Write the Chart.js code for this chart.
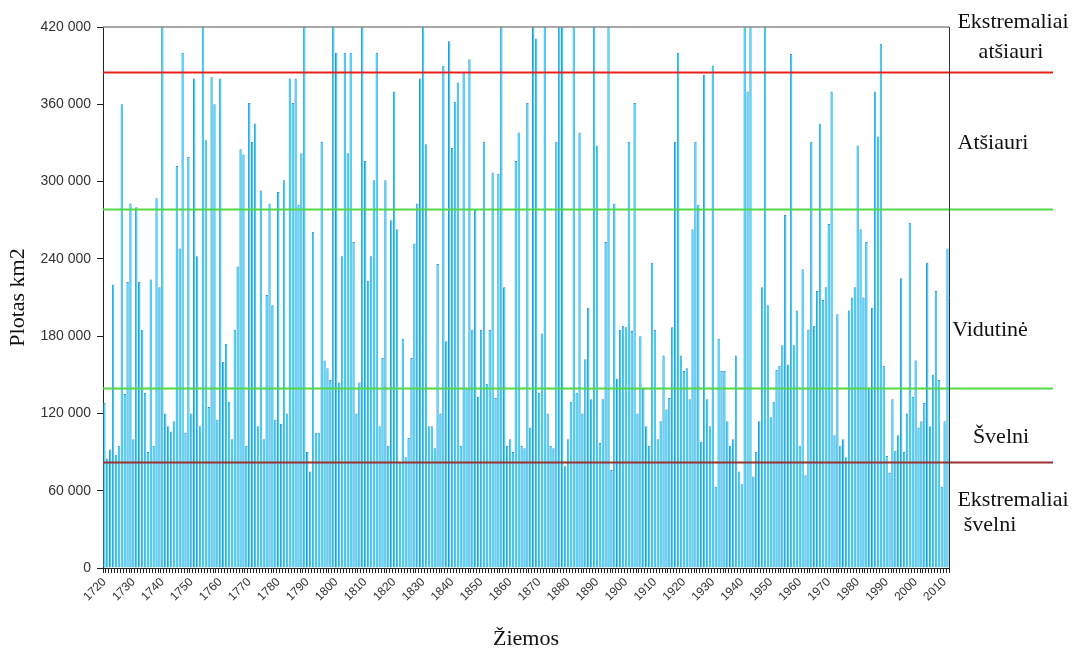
<!DOCTYPE html>
<html>
<head>
<meta charset="utf-8">
<script src="https://cdn.jsdelivr.net/npm/chart.js@4.4.1/dist/chart.umd.min.js"></script>
<style>
  html, body { margin: 0; padding: 0; background: #fff; }
  canvas { display: block; }
</style>
</head>
<body>
<canvas id="myChart" width="1073" height="652"></canvas>
<script>
// Ledo plotas Baltijos jūroje, žiemos 1720–2011
const firstYear = 1720;
const values = [
  128000, 85000, 92000, 220000, 88000, 95000, 360000, 135000, 222000, 283000,
  100000, 280000, 222000, 185000, 136000, 90000, 224000, 95000, 287000, 218000,
  420000, 120000, 110000, 106000, 114000, 312000, 248000, 400000, 105000, 319000,
  120000, 380000, 242000, 110000, 420000, 332000, 125000, 381000, 360000, 115000,
  380000, 160000, 174000, 129000, 100000, 185000, 234000, 325000, 321000, 95000,
  361000, 331000, 345000, 110000, 293000, 100000, 212000, 283000, 204000, 115000,
  292000, 112000, 301000, 120000, 380000, 361000, 380000, 282000, 322000, 420000,
  90000, 75000, 261000, 105000, 105000, 331000, 161000, 155000, 146000, 420000,
  400000, 144000, 242000, 400000, 322000, 400000, 253000, 120000, 144000, 420000,
  316000, 223000, 242000, 301000, 400000, 110000, 163000, 301000, 95000, 270000,
  370000, 263000, 82000, 178000, 86000, 101000, 163000, 252000, 283000, 380000,
  420000, 329000, 110000, 110000, 93000, 236000, 120000, 390000, 176000, 409000,
  326000, 362000, 377000, 95000, 385000, 140000, 395000, 185000, 278000, 133000,
  185000, 331000, 143000, 185000, 307000, 132000, 306000, 420000, 218000, 95000,
  100000, 90000, 316000, 338000, 95000, 93000, 361000, 109000, 420000, 411000,
  136000, 182000, 420000, 120000, 95000, 93000, 331000, 420000, 420000, 79000,
  100000, 129000, 420000, 136000, 338000, 120000, 162000, 202000, 131000, 420000,
  328000, 97000, 131000, 253000, 420000, 76000, 283000, 147000, 185000, 188000,
  187000, 331000, 184000, 361000, 120000, 180000, 139000, 110000, 95000, 237000,
  185000, 100000, 114000, 165000, 123000, 132000, 187000, 331000, 400000, 165000,
  153000, 155000, 131000, 263000, 331000, 282000, 98000, 383000, 131000, 110000,
  390000, 63000, 178000, 153000, 153000, 114000, 95000, 100000, 165000, 75000,
  65000, 420000, 370000, 420000, 71000, 90000, 114000, 218000, 420000, 204000,
  117000, 129000, 154000, 157000, 173000, 274000, 158000, 399000, 173000, 200000,
  95000, 232000, 72000, 185000, 331000, 188000, 215000, 345000, 208000, 218000,
  267000, 370000, 103000, 197000, 95000, 100000, 86000, 200000, 210000, 218000,
  328000, 263000, 210000, 253000, 140000, 202000, 370000, 335000, 407000, 157000,
  87000, 74000, 131000, 91000, 103000, 225000, 90000, 120000, 268000, 133000,
  161000, 109000, 114000, 128000, 237000, 110000, 150000, 215000, 146000, 63000,
  114000, 248000
];
const years = values.map((v, i) => String(firstYear + i));

// Ribos tarp žiemų tipų
const thresholds = [385000, 279000, 140000, 82000];
const thresholdColors = ['#e8201c', '#52d846', '#52d846', '#993333'];

// Užrašai dešinėje
const zoneLabels = [
  ['Ekstremaliai', 'atšiauri'],
  ['Atšiauri'],
  ['Vidutinė'],
  ['Švelni'],
  ['Ekstremaliai', 'švelni']
];
const zoneLabelPos = [
  [[1013, 22], [1011, 52]],
  [[993, 143]],
  [[990, 330]],
  [[1001, 437]],
  [[1013, 500], [990, 525]]
];

const serif = '"Liberation Serif", "Times New Roman", serif';
const sans = '"Liberation Sans", Arial, sans-serif';
const fmt = v => String(v).replace(/\B(?=(\d{3})+(?!\d))/g, ' ');

const zonesPlugin = {
  id: 'zones',
  afterDatasetsDraw(chart) {
    const c = chart.ctx;
    const y = chart.scales.y;
    const area = chart.chartArea;
    c.save();
    thresholds.forEach((t, i) => {
      const py = Math.round(y.getPixelForValue(t)) + 0.5;
      c.strokeStyle = thresholdColors[i];
      c.lineWidth = 2;
      c.beginPath();
      c.moveTo(area.left, py);
      c.lineTo(1053, py);
      c.stroke();
    });
    // rėmelis
    c.strokeStyle = '#8a8a8a';
    c.lineWidth = 1.5;
    c.beginPath();
    c.moveTo(area.left, area.top);
    c.lineTo(area.right, area.top);
    c.stroke();
    c.strokeStyle = '#333';
    c.lineWidth = 1;
    c.beginPath();
    c.moveTo(area.right + 0.5, area.top);
    c.lineTo(area.right + 0.5, area.bottom);
    c.stroke();
    // užrašai
    c.fillStyle = '#111';
    c.font = '22px ' + serif;
    c.textAlign = 'center';
    c.textBaseline = 'middle';
    zoneLabels.forEach((lines, i) => {
      lines.forEach((txt, j) => {
        const p = zoneLabelPos[i][j];
        c.fillText(txt, p[0], p[1]);
      });
    });
    c.restore();
  }
};

const ctx = document.getElementById('myChart').getContext('2d');

const config = {
  type: 'bar',
  data: {
    labels: years,
    datasets: [{
      label: 'Plotas km2',
      data: values,
      backgroundColor: '#3cd2f4',
      borderColor: '#3a8fd4',
      borderWidth: { left: 1, right: 0, top: 1, bottom: 0 },
      barPercentage: 0.86,
      categoryPercentage: 1
    }]
  },
  options: {
    responsive: false,
    animation: false,
    layout: { padding: { left: 0, right: 124, top: 27, bottom: 0 } },
    plugins: {
      legend: { display: false },
      tooltip: { enabled: false }
    },
    scales: {
      x: {
        grid: {
          drawOnChartArea: false,
          drawTicks: true,
          tickLength: 5,
          color: '#222'
        },
        border: { display: true, color: '#222', width: 1 },
        ticks: {
          autoSkip: false,
          maxRotation: 45,
          minRotation: 45,
          padding: 2,
          color: '#333',
          font: { family: sans, size: 12 },
          callback: function (val, idx) {
            const yr = firstYear + idx;
            return yr % 10 === 0 ? String(yr) : '';
          }
        },
        title: {
          display: true,
          text: 'Žiemos',
          color: '#111',
          font: { family: serif, size: 22 },
          padding: { top: 0, bottom: 0 }
        },
        afterFit: s => { s.height = 84; }
      },
      y: {
        min: 0,
        max: 420000,
        grid: {
          drawOnChartArea: false,
          drawTicks: true,
          tickLength: 6,
          color: '#222'
        },
        border: { display: true, color: '#222', width: 1 },
        ticks: {
          stepSize: 60000,
          padding: 6,
          color: '#333',
          font: { family: sans, size: 14 },
          callback: v => fmt(v)
        },
        title: {
          display: true,
          text: 'Plotas km2',
          color: '#111',
          font: { family: serif, size: 22 },
          padding: { top: 5, bottom: 0 }
        },
        afterFit: s => { s.width = 103; }
      }
    }
  },
  plugins: [zonesPlugin]
};

const myChart = new Chart(ctx, config);
</script>
</body>
</html>
